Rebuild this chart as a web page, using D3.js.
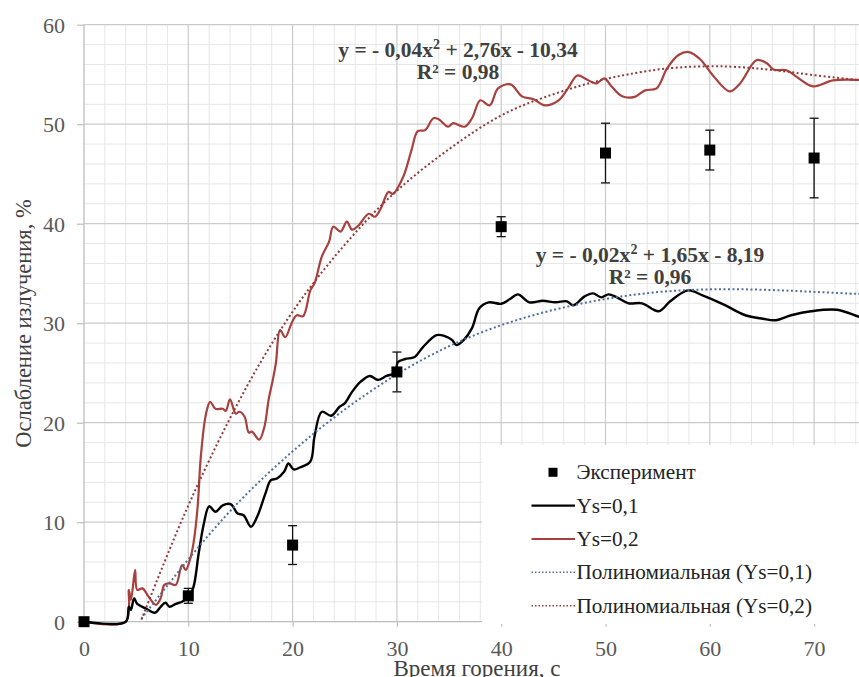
<!DOCTYPE html>
<html><head><meta charset="utf-8">
<script src="https://cdn.jsdelivr.net/npm/d3@7"></script>
<style>html,body{margin:0;padding:0;background:#fff;}svg{display:block;}</style>
</head><body>
<script>
// ---------- data ----------
const xTicks = [0,10,20,30,40,50,60,70];
const yTicks = [0,10,20,30,40,50,60];

const expX   = [0,10,20,30,40,50,60,70];
const expY   = [0,2.6,7.7,25.1,39.7,47.1,47.4,46.6];
const expErr = [0,0.75,1.95,2.0,1.0,3.0,2.0,4.0];

const ys01 = [[0,0],[4.0,0],[4.3,1.5],[4.5,1.2],[4.8,2.35],[5.1,1.8],[5.9,1.35],[6.8,0.9],[7.35,1.5],[7.8,1.9],[8.2,1.5],[8.8,1.8],[9.4,2.0],[10.05,2.5],[10.5,3.5],[11.0,6.9],[11.5,9.9],[12.0,11.6],[12.6,11.05],[13.3,11.7],[14.1,11.8],[14.7,10.9],[15.3,10.7],[16.0,9.55],[16.6,10.55],[17.4,12.9],[17.9,14.2],[18.5,14.4],[19.2,15.1],[19.6,15.9],[20.1,15.3],[20.7,15.5],[21.7,16.1],[22.1,18.6],[22.8,21.1],[23.7,20.7],[24.5,21.6],[25.0,21.95],[25.7,23.1],[26.5,24.1],[27.4,24.7],[28.2,24.3],[29.0,24.7],[29.8,25.0],[30.1,26.1],[30.8,26.4],[31.7,26.6],[32.5,27.6],[33.8,28.8],[34.6,28.7],[35.3,28.3],[35.7,27.8],[36.4,28.3],[37.2,29.5],[37.9,31.5],[38.8,32.1],[40.0,31.95],[40.8,32.4],[41.6,32.9],[42.7,32.1],[44.0,32.25],[45.2,32.1],[46.3,32.2],[46.9,31.8],[48.0,32.7],[48.8,33.0],[49.6,32.6],[50.3,32.9],[51.1,32.6],[52.2,32.0],[53.5,32.0],[55.1,31.2],[56.2,32.2],[57.9,33.3],[59.3,32.8],[61.3,31.9],[63.4,30.8],[65.1,30.45],[66.3,30.3],[67.8,30.8],[69.7,31.2],[72.2,31.35],[74.3,30.65],[75,30.5]];

const ys02 = [[0,0],[4.0,0],[4.3,3.2],[4.5,2.2],[4.9,5.2],[5.1,3.2],[5.6,3.35],[6.2,2.5],[6.9,1.7],[7.35,2.35],[7.7,3.7],[8.2,3.85],[8.8,3.7],[9.4,5.7],[9.75,5.2],[10.15,6.2],[10.5,7.9],[10.9,11.6],[11.2,16.6],[11.7,20.9],[12.1,22.1],[12.6,21.4],[13.3,21.4],[13.6,21.2],[14.0,22.35],[14.55,20.9],[14.9,21.1],[15.4,20.6],[15.8,19.0],[16.1,19.1],[16.8,18.3],[17.3,19.6],[17.7,22.3],[18.1,24.3],[18.4,26.0],[18.8,29.3],[19.3,28.6],[19.9,30.0],[20.4,30.8],[21.0,30.7],[21.7,33.3],[22.1,34.0],[22.8,36.7],[23.5,38.2],[23.9,39.7],[24.6,39.2],[25.2,40.2],[25.7,39.4],[26.3,39.8],[27.3,41.0],[27.9,40.7],[28.4,41.4],[29.2,43.2],[29.6,43.0],[30.6,44.7],[31.4,47.4],[32.0,49.3],[32.7,49.4],[33.5,50.6],[34.0,50.5],[34.9,49.75],[35.4,50.1],[36.5,49.75],[37.2,50.6],[38.0,52.4],[38.9,51.9],[39.7,53.6],[40.9,54.0],[42.0,52.8],[43.1,52.5],[44.2,51.9],[45.5,52.4],[46.4,53.6],[47.3,54.9],[48.2,54.5],[49.1,54.1],[49.9,54.6],[50.5,53.9],[51.6,52.8],[52.8,52.75],[53.8,53.4],[54.9,53.6],[55.9,55.6],[57.0,56.95],[58.0,57.25],[59.1,56.5],[60.3,54.9],[61.9,53.3],[62.9,54.1],[64.5,56.45],[65.5,56.1],[66.1,55.5],[67.4,55.4],[68.4,54.7],[69.9,53.8],[71.8,54.4],[74.3,54.45],[75,54.4]];

const trend01 = [[5.5,0.3],[7.5,3.0],[10.7,7.2],[14.5,11.8],[18.8,16.1],[24,20.7],[30,25.0],[35,27.8],[40,29.9],[45,31.4],[50,32.5],[55,33.2],[60,33.45],[65,33.4],[70,33.15],[75,32.9]];
const trend02 = [[5.5,0.2],[8,6.8],[10.7,13.5],[15.65,24.1],[20.5,32.2],[25,38.0],[29.5,43.1],[35,47.6],[40,51.1],[44,52.7],[48.8,54.3],[52,55.0],[56,55.7],[60,55.85],[62.2,55.8],[66,55.5],[70,54.9],[75,54.35]];

const legendLabels = ["Эксперимент","Ys=0,1","Ys=0,2","Полиномиальная (Ys=0,1)","Полиномиальная (Ys=0,2)"];
const eq1 = ["y = - 0,04x","2"," + 2,76x - 10,34"];
const eq2 = ["y = - 0,02x","2"," + 1,65x - 8,19"];
const r1 = "R² = 0,98", r2 = "R² = 0,96";
const xTitle = "Время горения, с";
const yTitle = "Ослабление излучения, %";

// ---------- layout ----------
const W = 859, H = 677;
const x = d3.scaleLinear().domain([0,80]).range([84, 84+834.4]);
const y = d3.scaleLinear().domain([0,60]).range([621.7, 24.7]);
const red = "#a8413e", redDot = "#8e3b3b", blueDot = "#4f6f9f";
const serif = "'Liberation Serif','Times New Roman',serif";

const svg = d3.select("body").append("svg").attr("width",W).attr("height",H);
svg.append("rect").attr("width",W).attr("height",H).attr("fill","#fff");

svg.append("defs").append("clipPath").attr("id","clip")
  .append("rect").attr("x",84).attr("y",18).attr("width",W-84).attr("height",612);

// grid
const g = svg.append("g");
const minorX = d3.range(0,82,2).filter(v=>v%10!==0);
const minorY = d3.range(0,61,2).filter(v=>v%10!==0);
g.selectAll(".mx").data(minorX).join("line")
  .attr("x1",d=>x(d)).attr("x2",d=>x(d)).attr("y1",y(60)).attr("y2",y(0))
  .attr("stroke","#e7e7e7").attr("stroke-width",1);
g.selectAll(".my").data(minorY).join("line")
  .attr("x1",x(0)).attr("x2",W).attr("y1",d=>y(d)).attr("y2",d=>y(d))
  .attr("stroke","#e7e7e7").attr("stroke-width",1);
g.selectAll(".Mx").data(d3.range(10,81,10)).join("line")
  .attr("x1",d=>x(d)).attr("x2",d=>x(d)).attr("y1",y(60)).attr("y2",y(0))
  .attr("stroke","#cbcbcb").attr("stroke-width",1.2);
g.selectAll(".My").data(yTicks.filter(v=>v>0)).join("line")
  .attr("x1",x(0)).attr("x2",W).attr("y1",d=>y(d)).attr("y2",d=>y(d))
  .attr("stroke","#cbcbcb").attr("stroke-width",1.2);

// axes
const xAxis = d3.axisBottom(x).tickValues(xTicks).tickSize(5).tickFormat(d3.format("d"));
const yAxis = d3.axisLeft(y).tickValues(yTicks).tickSize(7).tickFormat(d3.format("d"));
const gx = svg.append("g").attr("transform",`translate(0,${y(0)})`).call(xAxis);
const gy = svg.append("g").attr("transform",`translate(${x(0)},0)`).call(yAxis);
[gx,gy].forEach(a=>{
  a.select(".domain").remove();
  a.selectAll(".tick line").attr("stroke","#bdbdbd").attr("stroke-width",1.2);
  a.selectAll("text").attr("fill","#595959").style("font-family",serif).style("font-size","22px");
});
gx.selectAll("text").attr("dy",null).attr("y",34);
gy.selectAll("text").attr("x",-19).attr("dy","0.34em");
svg.append("line").attr("x1",x(0)).attr("x2",x(0)).attr("y1",y(60)).attr("y2",y(0)).attr("stroke","#bdbdbd").attr("stroke-width",1.3);
svg.append("line").attr("x1",x(0)).attr("x2",W).attr("y1",y(0)).attr("y2",y(0)).attr("stroke","#bdbdbd").attr("stroke-width",1.3);

// series
const plot = svg.append("g").attr("clip-path","url(#clip)");
const lineC = d3.line().x(d=>x(d[0])).y(d=>y(d[1])).curve(d3.curveCatmullRom.alpha(0.5));
const lineT = d3.line().x(d=>x(d[0])).y(d=>y(d[1])).curve(d3.curveBasis);
plot.append("path").datum(ys02).attr("d",lineC).attr("fill","none").attr("stroke",red).attr("stroke-width",2.2);
plot.append("path").datum(ys01).attr("d",lineC).attr("fill","none").attr("stroke","#000").attr("stroke-width",2.4);
plot.append("path").datum(trend01).attr("d",lineT).attr("fill","none").attr("stroke",blueDot).attr("stroke-width",2).attr("stroke-dasharray","2,2.5");
plot.append("path").datum(trend02).attr("d",lineT).attr("fill","none").attr("stroke",redDot).attr("stroke-width",2).attr("stroke-dasharray","2,2.5");

// experimental points
const pts = expX.map((v,i)=>({x:v,y:expY[i],e:expErr[i]}));
const eb = svg.append("g");
pts.filter(p=>p.e>0).forEach(p=>{
  const cx = x(p.x);
  eb.append("line").attr("x1",cx).attr("x2",cx).attr("y1",y(p.y+p.e)).attr("y2",y(p.y-p.e)).attr("stroke","#111").attr("stroke-width",1.3);
  [p.y+p.e,p.y-p.e].forEach(v=>eb.append("line").attr("x1",cx-4.5).attr("x2",cx+4.5).attr("y1",y(v)).attr("y2",y(v)).attr("stroke","#111").attr("stroke-width",1.3));
});
svg.append("g").selectAll("rect").data(pts).join("rect")
  .attr("x",d=>x(d.x)-5.5).attr("y",d=>y(d.y)-5.5).attr("width",11).attr("height",11).attr("fill","#000");

// equations
const eqSize = "21.5px";
function eq(parts, cx, by){
  const t = svg.append("text").attr("x",cx).attr("y",by).attr("text-anchor","middle")
    .attr("fill","#404040").style("font-family",serif).style("font-size",eqSize).style("font-weight","bold");
  t.append("tspan").text(parts[0]);
  t.append("tspan").attr("dy",-8).style("font-size","14px").text(parts[1]);
  t.append("tspan").attr("dy",8).text(parts[2]);
}
eq(eq1, 458, 57);
eq(eq2, 650, 262);
svg.append("text").attr("x",458).attr("y",79).attr("text-anchor","middle").attr("fill","#404040")
  .style("font-family",serif).style("font-size",eqSize).style("font-weight","bold").text(r1);
svg.append("text").attr("x",650).attr("y",284).attr("text-anchor","middle").attr("fill","#404040")
  .style("font-family",serif).style("font-size",eqSize).style("font-weight","bold").text(r2);

// legend
const lg = svg.append("g");
lg.append("rect").attr("x",482).attr("y",445).attr("width",W-482).attr("height",179).attr("fill","#fff");
const ly = [472.3,505.7,539,572.3,605.7];
lg.append("rect").attr("x",548.5).attr("y",ly[0]-4.5).attr("width",9).attr("height",9).attr("fill","#000");
lg.append("line").attr("x1",531.5).attr("x2",575).attr("y1",ly[1]).attr("y2",ly[1]).attr("stroke","#000").attr("stroke-width",2.2);
lg.append("line").attr("x1",531.5).attr("x2",575).attr("y1",ly[2]).attr("y2",ly[2]).attr("stroke",red).attr("stroke-width",2.2);
lg.append("line").attr("x1",531.5).attr("x2",575).attr("y1",ly[3]).attr("y2",ly[3]).attr("stroke",blueDot).attr("stroke-width",1.6).attr("stroke-dasharray","1.5,2");
lg.append("line").attr("x1",531.5).attr("x2",575).attr("y1",ly[4]).attr("y2",ly[4]).attr("stroke",redDot).attr("stroke-width",1.6).attr("stroke-dasharray","1.5,2");
legendLabels.forEach((s,i)=>{
  lg.append("text").attr("x",576.5).attr("y",ly[i]).attr("dy","0.33em").attr("fill","#222")
    .style("font-family",serif).style("font-size","21.2px").text(s);
});

// axis titles
svg.append("text").attr("transform","translate(24,323.5) rotate(-90)").attr("text-anchor","middle")
  .attr("dy","0.33em").attr("fill","#404040").style("font-family",serif).style("font-size","22.5px").text(yTitle);
svg.append("text").attr("x",477).attr("y",676).attr("text-anchor","middle")
  .attr("fill","#404040").style("font-family",serif).style("font-size","23px").text(xTitle);
</script>
</body></html>
